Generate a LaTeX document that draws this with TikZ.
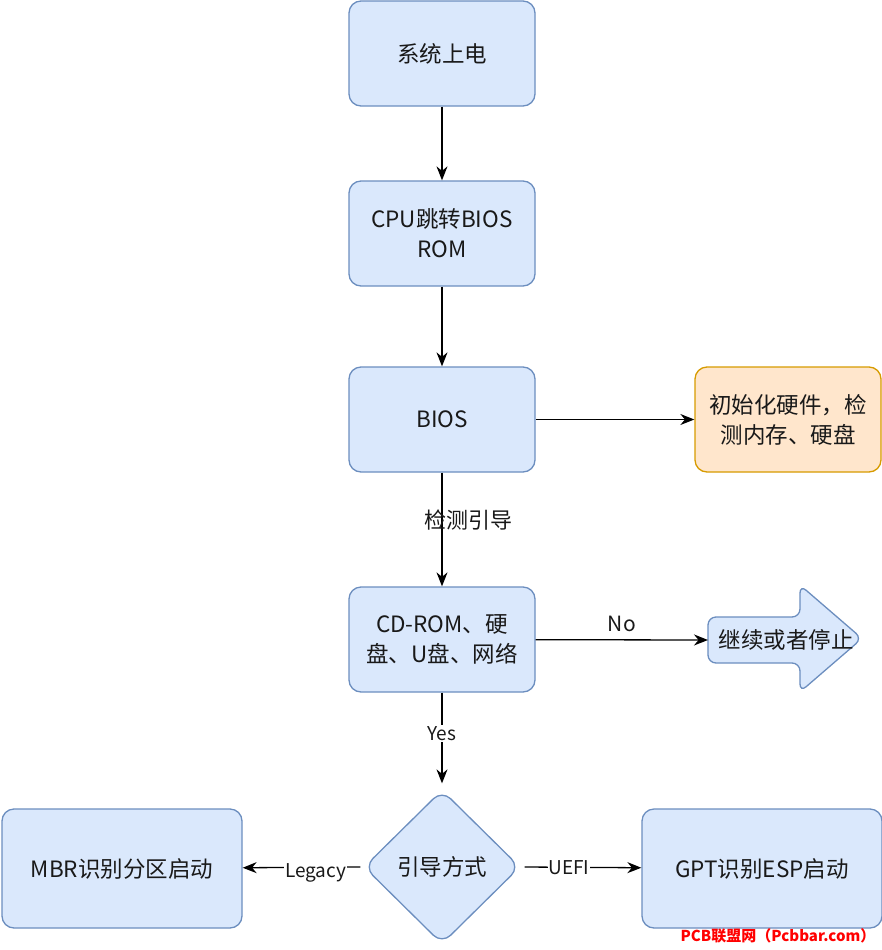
\documentclass[tikz,border=0pt]{standalone}
\usepackage{fontspec}
\setmainfont{Noto Sans CJK SC}
\usetikzlibrary{shapes.geometric,arrows.meta,calc}
\definecolor{bfill}{HTML}{DAE8FC}\definecolor{bline}{HTML}{6C8EBF}
\definecolor{ofill}{HTML}{FFE6CC}\definecolor{oline}{HTML}{D79B00}
\begin{document}
\begin{tikzpicture}[x=1pt,y=-1pt,
 box/.style={draw=bline,fill=bfill,line width=1.3pt,rounded corners=12pt,minimum width=186pt,minimum height=105pt,align=center,font=\fontsize{22.5}{30}\selectfont,text=black!90},
 arr/.style={-{Stealth[length=14pt,width=11pt]},line width=1.3pt},
 lab/.style={fill=white,inner sep=1pt,font=\fontsize{19}{22}\selectfont,text=black!90}]
\useasboundingbox (0,0) rectangle (882,950);
\node[box] (a) at (442,53.5) {系统上电};
\node[box] (b) at (442,233.5) {CPU跳转BIOS\\ROM};
\node[box] (c) at (442,419.5) {BIOS};
\node[box,draw=oline,fill=ofill] (d) at (788,419.5) {初始化硬件，检\\测内存、硬盘};
\node[box] (e) at (442,639.5) {CD-ROM、硬\\盘、U盘、网络};
\node[box,minimum width=240pt,minimum height=119pt] (m) at (122,868.5) {MBR识别分区启动};
\node[box,minimum width=240pt,minimum height=119pt] (g) at (762,868.5) {GPT识别ESP启动};
\node[draw=bline,fill=bfill,line width=1.3pt,diamond,rounded corners=12pt,minimum width=156pt,minimum height=154pt,font=\fontsize{22.5}{30}\selectfont,text=black!90,inner sep=0pt] (f) at (442,867) {引导方式};
\draw[draw=bline,fill=bfill,line width=1.3pt,rounded corners=8pt] (708,617) -- (800,617) -- (800,585) -- (862,638.5) -- (800,692) -- (800,663) -- (708,663) -- cycle;
\node[font=\fontsize{22.5}{30}\selectfont,text=black!90] (s) at (786,640) {继续或者停止};
\coordinate (sl) at (708,640);
\draw[arr] (a) -- (b);
\draw[arr] (b) -- (c);
\draw[arr] (c) -- (d);
\draw[arr] (c) -- node[lab,pos=0.42,xshift=26pt,fill=none,font=\fontsize{22}{26}\selectfont]{检测引导} (e);
\draw[arr] (e) -- node[lab,above=6pt,fill=none,font=\fontsize{21}{24}\selectfont]{No} (sl);
\draw[arr] (e) -- node[lab,pos=0.45]{Yes} ($(f.north)+(0,-6)$);
\draw[arr] ($(f.west)+(-3,0)$) -- node[lab,pos=0.38,yshift=-6pt]{Legacy} (m);
\draw[arr] ($(f.east)+(4,0)$) -- node[lab,pos=0.38]{UEFI} (g);
\node[text=red,font=\fontsize{15}{18}\selectfont\bfseries] (w) at (778,936) {PCB联盟网（Pcbbar.com）};
\end{tikzpicture}
\end{document}
